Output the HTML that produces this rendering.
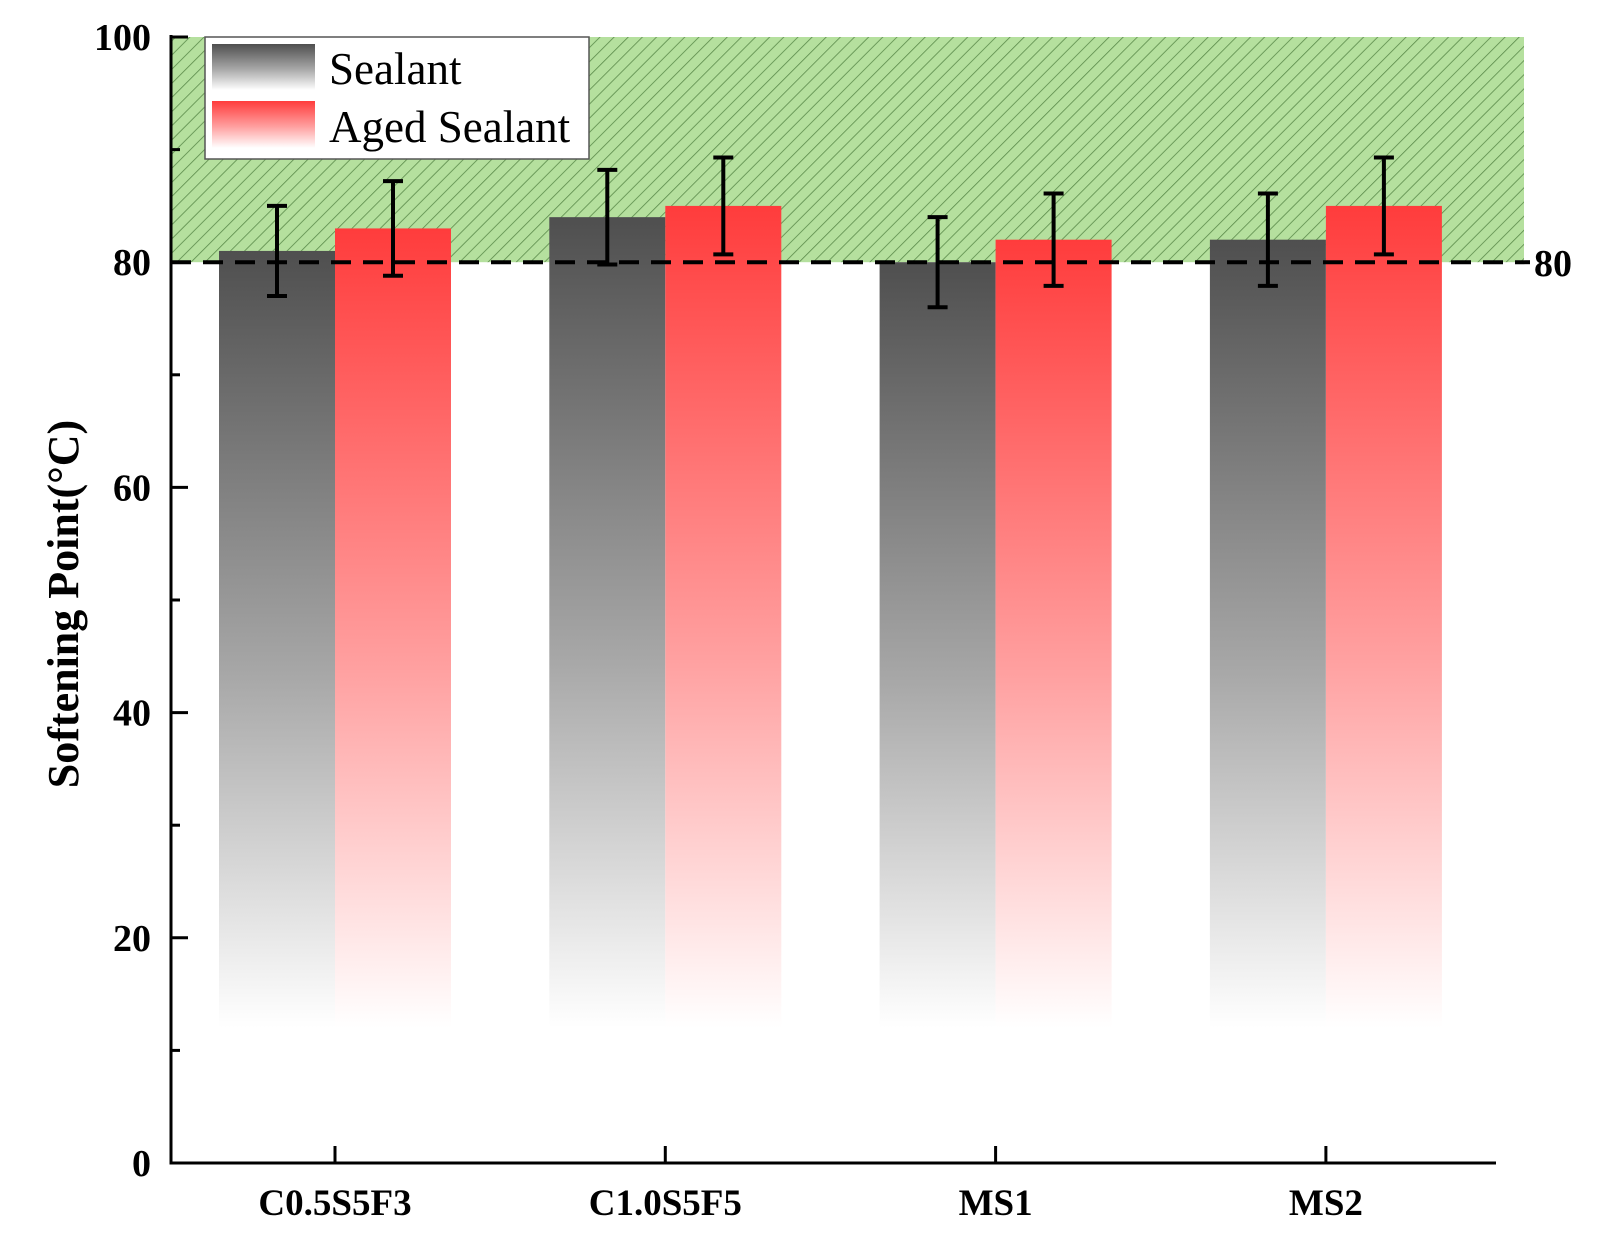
<!DOCTYPE html>
<html><head><meta charset="utf-8"><style>
body{margin:0;background:#fff;}
svg text{font-family:"Liberation Serif",serif;}
</style></head><body>
<svg id="chart" width="1609" height="1244" viewBox="0 0 1609 1244" xmlns="http://www.w3.org/2000/svg">
<defs>
<pattern id="hatch" patternUnits="userSpaceOnUse" width="10" height="10" patternTransform="rotate(45)">
<rect width="10" height="10" fill="#b5e09e"/><line x1="0" y1="0" x2="0" y2="10" stroke="#5a8a4a" stroke-width="1.6"/>
</pattern>
<linearGradient id="gGray" x1="0" y1="0" x2="0" y2="1"><stop offset="0" stop-color="#4f4f4f"/><stop offset="0.55" stop-color="#a8a8a8"/><stop offset="1" stop-color="#ffffff"/></linearGradient>
<linearGradient id="gRed" x1="0" y1="0" x2="0" y2="1"><stop offset="0" stop-color="#ff3c3c"/><stop offset="0.55" stop-color="#ffa0a0"/><stop offset="1" stop-color="#ffffff"/></linearGradient>
</defs>
<g id="plot"></g>
</svg>
<script>
const categories=["C0.5S5F3","C1.0S5F5","MS1","MS2"];
const sealant=[81,84,80,82];
const aged=[83,85,82,85];
const sealantErr=[4,4.2,4,4.1];
const agedErr=[4.2,4.3,4.1,4.3];
const yTicks=[0,20,40,60,80,100];
const threshold=80;

const NS="http://www.w3.org/2000/svg";
const g=document.getElementById('plot');
const X0=171,X1=1496,Y0=1163,Y100=37,barW=116,barBase=12;
const ys=v=>Y0-(v/100)*(Y0-Y100);
const xc=i=>335+i*330.3;
function el(t,a,p){const e=document.createElementNS(NS,t);for(const k in a)e.setAttribute(k,a[k]);(p||g).appendChild(e);return e;}

let r=el('rect',{x:X0,y:ys(100),width:1524-X0,height:ys(threshold)-ys(100),fill:'url(#hatch)'});



function bars(vals,errs,off,grad,nm){
vals.forEach((v,i)=>{
const x=xc(i)+off;
const b=el('rect',{x:x,y:ys(v),width:barW,height:ys(barBase)-ys(v),fill:grad});


});
}
bars(sealant,sealantErr,-barW,'url(#gGray)','sealant');
bars(aged,agedErr,0,'url(#gRed)','aged-sealant');

let dl=el('line',{x1:X0,x2:1530,y1:ys(threshold),y2:ys(threshold),stroke:'#000','stroke-width':4,'stroke-dasharray':'20,12'});


let tl=el('text',{x:1534,y:ys(threshold)+14,'font-size':38,'font-weight':'bold'});tl.textContent=String(threshold);



function errs(vals,e,off,nm){
vals.forEach((v,i)=>{
const x=xc(i)+off+barW/2;
const eg=el('g',{stroke:'#000','stroke-width':4});


el('line',{x1:x,x2:x,y1:ys(v+e[i]),y2:ys(v-e[i])},eg);
el('line',{x1:x-10,x2:x+10,y1:ys(v+e[i]),y2:ys(v+e[i])},eg);
el('line',{x1:x-10,x2:x+10,y1:ys(v-e[i]),y2:ys(v-e[i])},eg);
});
}
errs(sealant,sealantErr,-barW,'sealant');
errs(aged,agedErr,0,'aged-sealant');

let ax=el('path',{d:`M${X0} ${Y100-2} V${Y0} H${X1}`,fill:'none',stroke:'#000','stroke-width':3});


for(let v=0;v<=100;v+=10){
const major=v%20===0;
el('line',{x1:X0,x2:X0+(major?17:9),y1:ys(v),y2:ys(v),stroke:'#000','stroke-width':3});
}
yTicks.forEach(v=>{
const t=el('text',{x:X0-20,y:ys(v)+13,'font-size':38,'font-weight':'bold','text-anchor':'end'});t.textContent=v;


});
categories.forEach((c,i)=>{
el('line',{x1:xc(i),x2:xc(i),y1:Y0,y2:Y0-17,stroke:'#000','stroke-width':3});
const t=el('text',{x:xc(i),y:Y0+52,'font-size':37,'font-weight':'bold','text-anchor':'middle'});t.textContent=c;


});
let yt=el('text',{x:0,y:0,'font-size':44,'font-weight':'bold','text-anchor':'middle',transform:`translate(78,${ys(50)+4}) rotate(-90)`});
yt.textContent='Softening Point(°C)';



const lg=el('g',{});


el('rect',{x:205,y:37,width:384,height:122,fill:'#fff',stroke:'#555','stroke-width':1.5},lg);
el('rect',{x:212,y:44,width:103,height:46,fill:'url(#gGray)'},lg);
el('rect',{x:212,y:101,width:103,height:47,fill:'url(#gRed)'},lg);
let l1=el('text',{x:329,y:84,'font-size':45},lg);l1.textContent='Sealant';


let l2=el('text',{x:329,y:142,'font-size':45},lg);l2.textContent='Aged Sealant';


</script>
</body></html>
